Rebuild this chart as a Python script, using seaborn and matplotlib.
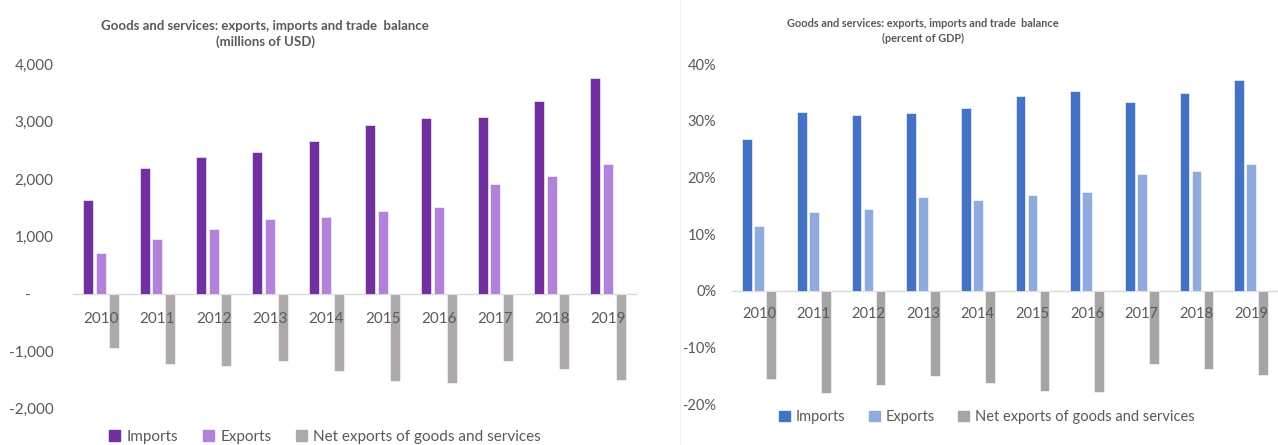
import matplotlib
matplotlib.use("Agg")
import matplotlib.pyplot as plt
import seaborn as sns
import pandas as pd
from matplotlib.lines import Line2D
from matplotlib.ticker import FuncFormatter

years = ["2010", "2011", "2012", "2013", "2014", "2015", "2016", "2017", "2018", "2019"]
series = ["Imports", "Exports", "Net exports of goods and services"]

usd_imports = [1640, 2184, 2378, 2460, 2665, 2940, 3063, 3081, 3350, 3754]
usd_exports = [703, 954, 1125, 1294, 1329, 1446, 1517, 1903, 2050, 2255]
usd_net = [-949, -1230, -1265, -1172, -1336, -1511, -1559, -1178, -1313, -1500]

gdp_imports = [0.268, 0.316, 0.310, 0.314, 0.322, 0.344, 0.352, 0.333, 0.349, 0.371]
gdp_exports = [0.114, 0.138, 0.145, 0.166, 0.160, 0.169, 0.174, 0.206, 0.212, 0.224]
gdp_net = [-0.156, -0.180, -0.166, -0.150, -0.163, -0.177, -0.179, -0.129, -0.138, -0.149]

title_left = "Goods and services: exports, imports and trade  balance\n(millions of USD)"
title_right = "Goods and services: exports, imports and trade  balance\n(percent of GDP)"

pal_left = ["#7030A0", "#B381D9", "#AEAAAA"]
pal_right = ["#4472C4", "#8FAADC", "#A5A5A5"]

def long_df(a, b, c):
    rows = []
    for vals, s in zip((a, b, c), series):
        for y, v in zip(years, vals):
            rows.append({"year": y, "series": s, "value": v})
    return pd.DataFrame(rows)

sns.set_theme(style="white")
plt.rcParams["font.family"] = ["Lato", "DejaVu Sans"]
TXT = "#595959"

fig = plt.figure(figsize=(12.78, 4.45), dpi=100)
axL = fig.add_axes([73 / 1278, 1 - 408.7 / 445, (636 - 73) / 1278, (408.7 - 64) / 445])
axR = fig.add_axes([731.7 / 1278, 1 - 404 / 445, (1278.5 - 731.7) / 1278, (404 - 64) / 445])

def draw(ax, df, pal, width, gap, ylim, fmt, fs_tick, ypad, xpad):
    sns.barplot(data=df, x="year", y="value", hue="series", palette=pal,
                width=width, gap=gap, ax=ax, errorbar=None, saturation=1,
                edgecolor="white", linewidth=0.4, zorder=2)
    ax.set_ylim(*ylim)
    ax.set_xlim(-0.5, len(years) - 0.5)
    for s in ["top", "right", "left"]:
        ax.spines[s].set_visible(False)
    ax.spines["bottom"].set_position(("data", 0))
    ax.spines["bottom"].set_color("#D9D9D9")
    ax.spines["bottom"].set_linewidth(1.0)
    ax.spines["bottom"].set_zorder(1)
    ax.xaxis.set_zorder(5)
    ax.yaxis.set_major_formatter(FuncFormatter(fmt))
    ax.tick_params(axis="y", length=0, pad=ypad, labelsize=fs_tick, labelcolor=TXT)
    ax.tick_params(axis="x", length=0, pad=xpad, labelsize=fs_tick, labelcolor=TXT)
    ax.set_xlabel("")
    ax.set_ylabel("")
    ax.legend_.remove()
    ax.patch.set_alpha(0)

draw(axL, long_df(usd_imports, usd_exports, usd_net), pal_left, 0.677, 0.21,
     (-2000, 4000), lambda v, p: "-      " if v == 0 else f"{v:,.0f}", 11, 14, 13)
axL.set_yticks(range(-2000, 4001, 1000))

draw(axR, long_df(gdp_imports, gdp_exports, gdp_net), pal_right, 0.658, 0.19,
     (-0.2, 0.4), lambda v, p: f"{v * 100:.0f}%", 10.5, 11, 12)
axR.set_yticks([-0.2, -0.1, 0, 0.1, 0.2, 0.3, 0.4])

fig.text(265 / 1278, 1 - 34 / 445, title_left, ha="center", va="center",
         fontsize=9.5, fontweight="bold", color=TXT, linespacing=1.35)
fig.text(923 / 1278, 1 - 31 / 445, title_right, ha="center", va="center",
         fontsize=7.9, fontweight="bold", color=TXT, linespacing=1.35)

def legend(ax, pal, x, y, fs):
    handles = [plt.Rectangle((0, 0), 1, 1, color=c) for c in pal]
    ax.legend(handles, series, loc="center", bbox_to_anchor=(x, y),
              bbox_transform=fig.transFigure, ncol=3, frameon=False,
              fontsize=fs, labelcolor=TXT, handlelength=0.75, handleheight=0.75,
              handletextpad=0.4, columnspacing=1.6, borderpad=0)

legend(axL, pal_left, 325 / 1278, 1 - 437 / 445, 11)
legend(axR, pal_right, 987 / 1278, 1 - 417 / 445, 10.5)

fig.add_artist(Line2D([680 / 1278, 680 / 1278], [0, 1], transform=fig.transFigure,
                      color="#EFEFEF", linewidth=0.8))

fig.savefig("out.png", dpi=100)
